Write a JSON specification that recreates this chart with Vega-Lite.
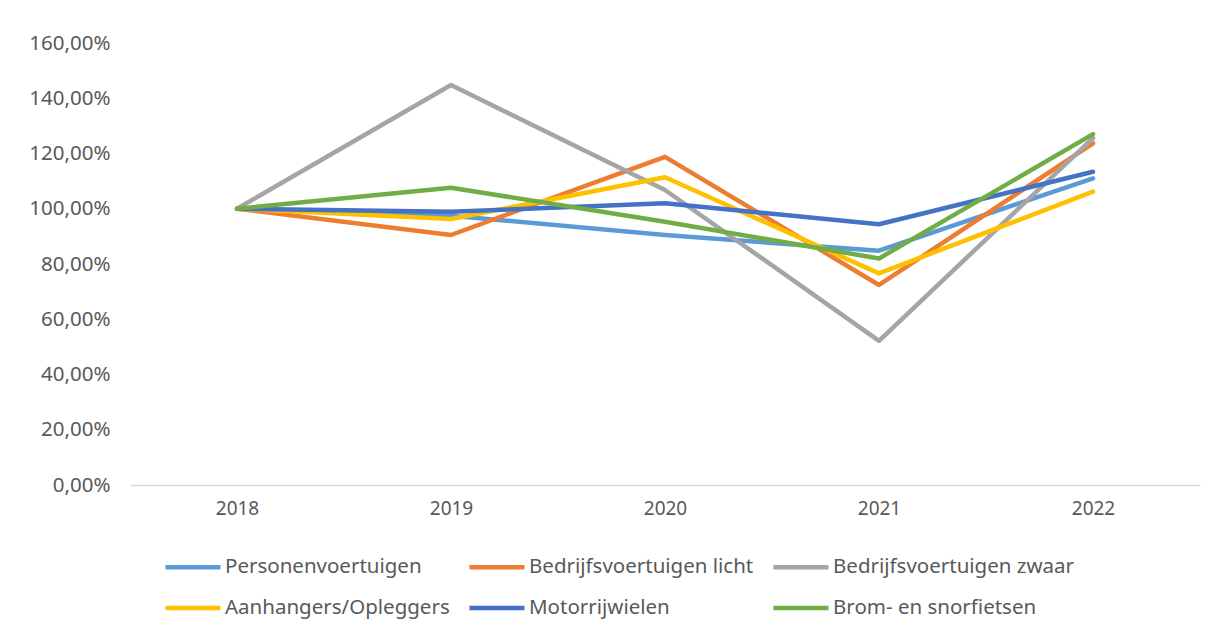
{
  "$schema": "https://vega.github.io/schema/vega-lite/v6.json",
  "autosize": {"type": "none"},
  "width": 1070,
  "height": 442,
  "padding": {"left": 130, "top": 43, "right": 17, "bottom": 154},
  "config": {
    "locale": {"number": {"decimal": ",", "thousands": ".", "grouping": [3], "currency": ["€", ""]}},
    "view": {"stroke": null},
    "font": "Noto Sans"
  },
  "data": {
    "values": [
      {"jaar": "2018", "serie": "Personenvoertuigen", "waarde": 1.0},
      {"jaar": "2019", "serie": "Personenvoertuigen", "waarde": 0.975},
      {"jaar": "2020", "serie": "Personenvoertuigen", "waarde": 0.905},
      {"jaar": "2021", "serie": "Personenvoertuigen", "waarde": 0.848},
      {"jaar": "2022", "serie": "Personenvoertuigen", "waarde": 1.11},
      {"jaar": "2018", "serie": "Bedrijfsvoertuigen licht", "waarde": 1.0},
      {"jaar": "2019", "serie": "Bedrijfsvoertuigen licht", "waarde": 0.905},
      {"jaar": "2020", "serie": "Bedrijfsvoertuigen licht", "waarde": 1.188},
      {"jaar": "2021", "serie": "Bedrijfsvoertuigen licht", "waarde": 0.724},
      {"jaar": "2022", "serie": "Bedrijfsvoertuigen licht", "waarde": 1.237},
      {"jaar": "2018", "serie": "Bedrijfsvoertuigen zwaar", "waarde": 1.0},
      {"jaar": "2019", "serie": "Bedrijfsvoertuigen zwaar", "waarde": 1.448},
      {"jaar": "2020", "serie": "Bedrijfsvoertuigen zwaar", "waarde": 1.068},
      {"jaar": "2021", "serie": "Bedrijfsvoertuigen zwaar", "waarde": 0.522},
      {"jaar": "2022", "serie": "Bedrijfsvoertuigen zwaar", "waarde": 1.256},
      {"jaar": "2018", "serie": "Aanhangers/Opleggers", "waarde": 1.0},
      {"jaar": "2019", "serie": "Aanhangers/Opleggers", "waarde": 0.963},
      {"jaar": "2020", "serie": "Aanhangers/Opleggers", "waarde": 1.114},
      {"jaar": "2021", "serie": "Aanhangers/Opleggers", "waarde": 0.766},
      {"jaar": "2022", "serie": "Aanhangers/Opleggers", "waarde": 1.062},
      {"jaar": "2018", "serie": "Motorrijwielen", "waarde": 1.0},
      {"jaar": "2019", "serie": "Motorrijwielen", "waarde": 0.989},
      {"jaar": "2020", "serie": "Motorrijwielen", "waarde": 1.02},
      {"jaar": "2021", "serie": "Motorrijwielen", "waarde": 0.944},
      {"jaar": "2022", "serie": "Motorrijwielen", "waarde": 1.134},
      {"jaar": "2018", "serie": "Brom- en snorfietsen", "waarde": 1.0},
      {"jaar": "2019", "serie": "Brom- en snorfietsen", "waarde": 1.076},
      {"jaar": "2020", "serie": "Brom- en snorfietsen", "waarde": 0.953},
      {"jaar": "2021", "serie": "Brom- en snorfietsen", "waarde": 0.82},
      {"jaar": "2022", "serie": "Brom- en snorfietsen", "waarde": 1.27}
    ]
  },
  "mark": {"type": "line", "strokeWidth": 4.5, "strokeCap": "round", "strokeJoin": "round"},
  "encoding": {
    "x": {
      "field": "jaar", "type": "ordinal",
      "scale": {"type": "point", "padding": 0.5},
      "axis": {
        "title": null, "labelAngle": 0, "ticks": false, "grid": false,
        "domainColor": "#D9D9D9", "domainWidth": 1.5,
        "labelColor": "#595959", "labelFontSize": 19, "labelPadding": 14
      }
    },
    "y": {
      "field": "waarde", "type": "quantitative",
      "scale": {"domain": [0, 1.6], "nice": false},
      "axis": {
        "title": null, "format": ".2%", "values": [0, 0.2, 0.4, 0.6, 0.8, 1.0, 1.2, 1.4, 1.6],
        "grid": false, "ticks": false, "domain": false,
        "labelColor": "#595959", "labelFontSize": 20.5, "labelPadding": 20
      }
    },
    "color": {
      "field": "serie", "type": "nominal",
      "scale": {
        "domain": ["Personenvoertuigen", "Bedrijfsvoertuigen licht", "Bedrijfsvoertuigen zwaar", "Aanhangers/Opleggers", "Motorrijwielen", "Brom- en snorfietsen"],
        "range": ["#5B9BD5", "#ED7D31", "#A5A5A5", "#FFC000", "#4472C4", "#70AD47"]
      },
      "legend": {
        "title": null, "orient": "none", "legendX": 33, "legendY": 494,
        "direction": "horizontal", "columns": 3, "gridAlign": "all",
        "symbolType": "stroke", "symbolSize": 3025, "symbolStrokeWidth": 4.5,
        "labelFontSize": 20.5, "labelColor": "#595959", "labelOffset": 2,
        "columnPadding": -6, "rowPadding": -7, "labelLimit": 400
      }
    }
  }
}
